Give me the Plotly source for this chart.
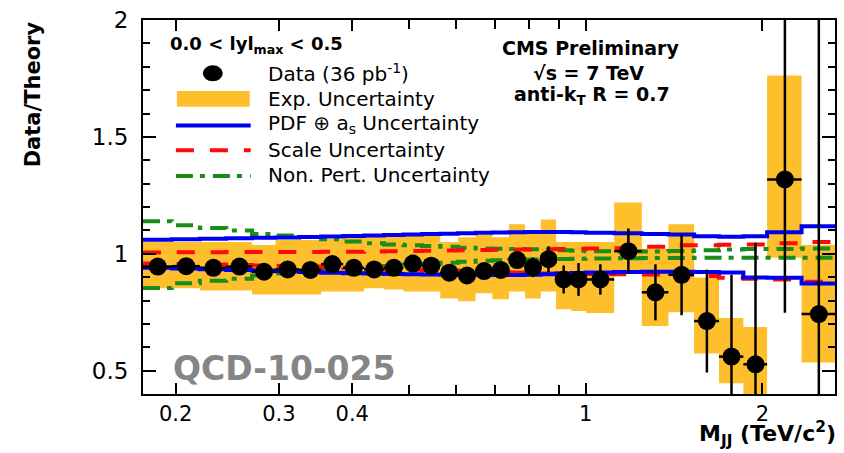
import math
import plotly.graph_objects as go

# ---------------- data ----------------
edges = [0.176, 0.197, 0.220, 0.244, 0.270, 0.296, 0.325, 0.354, 0.386, 0.419,
         0.453, 0.489, 0.526, 0.565, 0.606, 0.649, 0.693, 0.740, 0.788, 0.838,
         0.890, 0.944, 1.000, 1.118, 1.246, 1.383, 1.530, 1.687, 1.856, 2.037,
         2.332, 2.659]

ratio = [0.945, 0.947, 0.940, 0.945, 0.923, 0.933, 0.931, 0.956, 0.940, 0.933,
         0.940, 0.958, 0.949, 0.919, 0.907, 0.926, 0.931, 0.973, 0.942, 0.977,
         0.890, 0.890, 0.890, 1.011, 0.835, 0.910, 0.712, 0.560, 0.527, 1.318,
         0.742]

stat_up = [0.005, 0.005, 0.006, 0.006, 0.007, 0.007, 0.008, 0.009, 0.010, 0.011,
           0.012, 0.014, 0.016, 0.018, 0.020, 0.023, 0.028, 0.035, 0.042, 0.055,
           0.060, 0.070, 0.065, 0.097, 0.120, 0.173, 0.220, 0.350, 0.520, 0.800,
           1.500]
stat_dn = [0.005, 0.005, 0.006, 0.006, 0.007, 0.007, 0.008, 0.009, 0.010, 0.011,
           0.012, 0.014, 0.016, 0.018, 0.020, 0.023, 0.028, 0.035, 0.042, 0.055,
           0.060, 0.070, 0.065, 0.097, 0.120, 0.173, 0.220, 0.300, 0.450, 0.570,
           0.550]

exp_hi = [1.050, 1.050, 1.050, 1.050, 1.037, 1.059, 1.059, 1.063, 1.075, 1.075,
          1.075, 1.080, 1.080, 1.050, 1.071, 1.080, 1.071, 1.126, 1.101, 1.147,
          1.050, 1.050, 1.050, 1.219, 1.021, 1.126, 0.898, 0.725, 0.687, 1.763,
          1.037]
exp_lo = [0.852, 0.852, 0.843, 0.843, 0.826, 0.826, 0.826, 0.839, 0.839, 0.852,
          0.847, 0.839, 0.839, 0.809, 0.797, 0.831, 0.805, 0.839, 0.809, 0.839,
          0.763, 0.755, 0.746, 0.915, 0.691, 0.750, 0.573, 0.446, 0.383, 0.983,
          0.535]

pdf_hi = [1.060, 1.062, 1.064, 1.066, 1.068, 1.070, 1.072, 1.074, 1.076, 1.078,
          1.080, 1.082, 1.084, 1.086, 1.088, 1.090, 1.091, 1.092, 1.093, 1.093,
          1.093, 1.092, 1.090, 1.088, 1.084, 1.082, 1.075, 1.073, 1.075, 1.092,
          1.118]
pdf_lo = [0.940, 0.937, 0.934, 0.931, 0.928, 0.925, 0.922, 0.919, 0.917, 0.915,
          0.913, 0.912, 0.911, 0.910, 0.909, 0.909, 0.909, 0.909, 0.910, 0.912,
          0.915, 0.918, 0.920, 0.922, 0.923, 0.923, 0.922, 0.920, 0.898, 0.897,
          0.873]

scale_hi = [1.005, 1.006, 1.006, 1.007, 1.007, 1.008, 1.008, 1.009, 1.009, 1.010,
            1.011, 1.012, 1.013, 1.014, 1.015, 1.016, 1.017, 1.018, 1.018, 1.019,
            1.020, 1.021, 1.022, 1.024, 1.030, 1.036, 1.036, 1.038, 1.040, 1.045,
            1.050]
scale_lo = [0.958, 0.956, 0.954, 0.952, 0.950, 0.948, 0.945, 0.942, 0.940, 0.937,
            0.934, 0.932, 0.930, 0.928, 0.926, 0.924, 0.922, 0.920, 0.918, 0.916,
            0.915, 0.914, 0.913, 0.912, 0.911, 0.910, 0.905, 0.897, 0.893, 0.890,
            0.880]

np_hi = [1.139, 1.122, 1.110, 1.100, 1.085, 1.078, 1.072, 1.062, 1.052, 1.045,
         1.040, 1.036, 1.033, 1.030, 1.026, 1.022, 1.021, 1.020, 1.019, 1.018,
         1.015, 1.013, 1.011, 1.010, 1.010, 1.012, 1.015, 1.018, 1.020, 1.020,
         1.022]
np_lo = [0.853, 0.874, 0.884, 0.893, 0.907, 0.915, 0.922, 0.930, 0.937, 0.943,
         0.948, 0.953, 0.957, 0.962, 0.966, 0.970, 0.972, 0.974, 0.975, 0.976,
         0.978, 0.979, 0.980, 0.981, 0.982, 0.982, 0.983, 0.983, 0.983, 0.983,
         0.983]

x_tick_vals = [0.2, 0.3, 0.4, 1, 2]
x_tick_text = ["0.2", "0.3", "0.4", "1", "2"]
x_minor_vals = [0.5, 0.6, 0.7, 0.8, 0.9]
y_tick_vals = [0.5, 1, 1.5, 2]
y_tick_text = ["0.5", "1", "1.5", "2"]

# ---------------- styles ----------------
FONT = "DejaVu Sans"
ORANGE = "#FDBF2C"
BLUE = "#0000F0"
RED = "#FF0A0A"
GREEN = "#1A8C1A"
RED_DASH = "18px,16px"
GREEN_DASH = "17px,7px,5px,8px"

lo = edges[:-1]
hi = edges[1:]
centers = [(a + b) / 2 for a, b in zip(lo, hi)]
ex_p = [b - c for b, c in zip(hi, centers)]
ex_m = [c - a for a, c in zip(lo, centers)]

fig = go.Figure()

# experimental uncertainty band (per-bin boxes)
bx, by = [], []
for a, b, t in zip(lo, hi, exp_hi):
    bx += [a, b]
    by += [t, t]
for a, b, d in reversed(list(zip(lo, hi, exp_lo))):
    bx += [b, a]
    by += [d, d]
fig.add_trace(go.Scatter(x=bx, y=by, mode="lines", fill="toself",
                         fillcolor=ORANGE, line=dict(width=0), hoverinfo="skip",
                         showlegend=False))


def step(vals, color, dash):
    fig.add_trace(go.Scatter(x=edges, y=list(vals) + [vals[-1]], mode="lines",
                             line=dict(color=color, width=4, dash=dash, shape="hv"),
                             showlegend=False, hoverinfo="skip"))


step(np_hi, GREEN, GREEN_DASH)
step(np_lo, GREEN, GREEN_DASH)
step(scale_hi, RED, RED_DASH)
step(scale_lo, RED, RED_DASH)
step(pdf_hi, BLUE, "solid")
step(pdf_lo, BLUE, "solid")

fig.add_trace(go.Scatter(
    x=centers, y=ratio, mode="markers",
    marker=dict(color="black", size=18, symbol="circle"),
    error_y=dict(type="data", array=stat_up, arrayminus=stat_dn, color="black",
                 thickness=2.5, width=0, symmetric=False),
    error_x=dict(type="data", array=ex_p, arrayminus=ex_m, color="black",
                 thickness=2.5, width=0, symmetric=False),
    showlegend=False))

# ---------------- layout ----------------
L, R, T, B = 143, 7, 15, 59
W, H = 844, 453
PW, PH = W - L - R, H - T - B


def px(xp):
    return (xp - L) / PW


def py(yp):
    return (H - B - yp) / PH


ann = []


def text(s, x, y, size, xanchor="left", yanchor="middle", bold=False,
         color="black", angle=0):
    if bold:
        s = "<b>" + s + "</b>"
    ann.append(dict(text=s, x=px(x), y=py(y), xref="paper", yref="paper",
                    xanchor=xanchor, yanchor=yanchor, showarrow=False,
                    textangle=angle,
                    font=dict(family=FONT, size=size, color=color)))


text("0.0 &lt; lyl<sub>max</sub> &lt; 0.5", 168, 40, 18, bold=True)
text("Data (36 pb<sup>-1</sup>)", 266, 69, 20)
text("Exp. Uncertainty", 266, 95, 20)
text("PDF ⊕ a<sub>s</sub> Uncertainty", 266, 120, 20)
text("Scale Uncertainty", 266, 147, 20)
text("Non. Pert. Uncertainty", 266, 172, 20)
text("CMS Preliminary", 592, 43, 19, xanchor="center", bold=True)
text("√s = 7 TeV", 590, 69, 19, xanchor="center", bold=True)
text("anti-k<sub>T</sub> R = 0.7", 593, 92, 19, xanchor="center", bold=True)
text("QCD-10-025", 171, 368, 33, bold=True, color="#858585")
text("Data/Theory", 33, 90, 21, xanchor="center", bold=True, angle=-90)
text("M<sub>JJ</sub> (TeV/c<sup>2</sup>)", 840, 453, 22, xanchor="right",
     yanchor="bottom", bold=True)

shapes = [
    dict(type="circle", xref="paper", yref="paper", xsizemode="pixel",
         ysizemode="pixel", xanchor=px(213), yanchor=py(69), x0=-10, x1=10,
         y0=-8, y1=8, fillcolor="black", line=dict(width=0)),
    dict(type="rect", xref="paper", yref="paper", x0=px(177), x1=px(250),
         y0=py(103), y1=py(87), fillcolor=ORANGE, line=dict(width=0)),
    dict(type="line", xref="paper", yref="paper", x0=px(176), x1=px(251),
         y0=py(122), y1=py(122), line=dict(color=BLUE, width=4)),
    dict(type="line", xref="paper", yref="paper", x0=px(176), x1=px(251),
         y0=py(147), y1=py(147), line=dict(color=RED, width=4, dash=RED_DASH)),
    dict(type="line", xref="paper", yref="paper", x0=px(176), x1=px(251),
         y0=py(173), y1=py(173), line=dict(color=GREEN, width=4, dash=GREEN_DASH)),
]

fig.update_layout(
    width=W, height=H,
    margin=dict(l=L, r=R, t=T, b=B, pad=0),
    paper_bgcolor="white", plot_bgcolor="white",
    showlegend=False,
    annotations=ann,
    shapes=shapes,
    font=dict(family=FONT, color="black"),
    xaxis=dict(type="log", range=[math.log10(edges[0]), math.log10(edges[-1])],
               tickmode="array", tickvals=x_tick_vals, ticktext=x_tick_text,
               ticks="inside", ticklen=11, tickwidth=2, tickcolor="black",
               minor=dict(tickmode="array", tickvals=x_minor_vals, ticks="inside",
                          ticklen=9, tickwidth=2, tickcolor="black"),
               showgrid=False, zeroline=False, showline=True, linecolor="black",
               linewidth=2, mirror="ticks", ticklabelstandoff=0,
               tickfont=dict(family=FONT, size=21, color="black")),
    yaxis=dict(range=[0.4, 2.0], tickmode="array", tickvals=y_tick_vals,
               ticktext=y_tick_text, ticks="inside", ticklen=13, tickwidth=2,
               tickcolor="black",
               minor=dict(dtick=0.1, tick0=0, ticks="inside", ticklen=7,
                          tickwidth=2, tickcolor="black"),
               showgrid=False, zeroline=False, showline=True, linecolor="black",
               linewidth=2, mirror="ticks", ticklabelstandoff=8,
               tickfont=dict(family=FONT, size=23, color="black")),
)

fig.write_html("out.html")
